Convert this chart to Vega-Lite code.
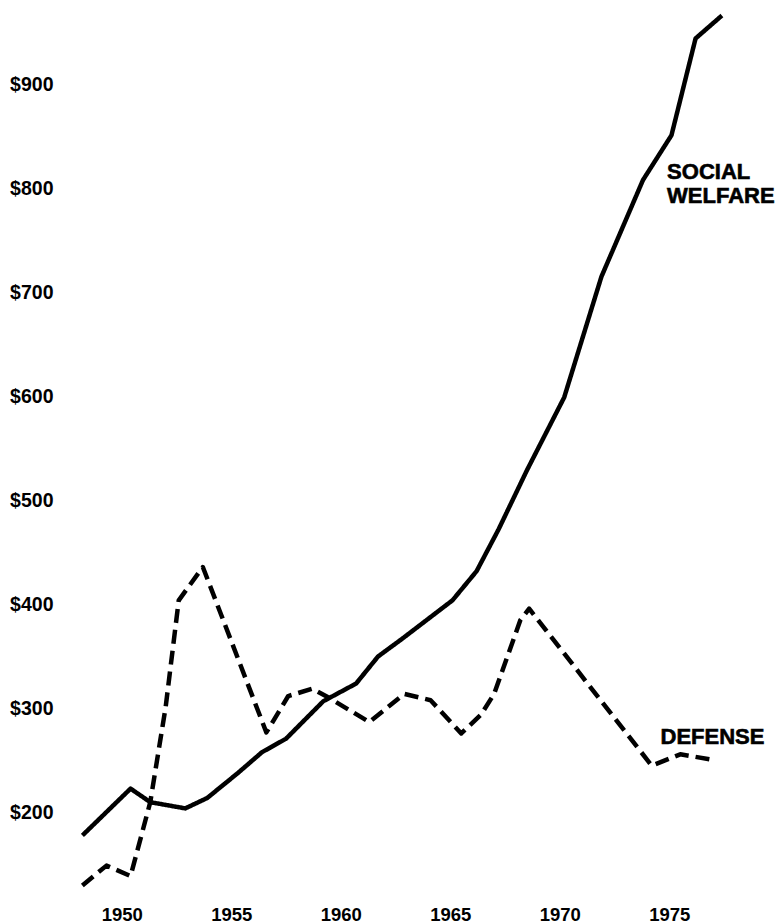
{
  "$schema": "https://vega.github.io/schema/vega-lite/v6.json",
  "width": 657,
  "height": 900,
  "autosize": {"type": "none"},
  "padding": {"left": 78, "top": 1, "right": 41, "bottom": 23},
  "background": "white",
  "config": {"view": {"stroke": null}, "font": "Liberation Sans"},
  "datasets": {
    "lines": [
      {"series": "Social welfare", "year": 1948.2, "value": 178},
      {"series": "Social welfare", "year": 1950.4, "value": 223},
      {"series": "Social welfare", "year": 1951.3, "value": 210},
      {"series": "Social welfare", "year": 1952.9, "value": 204},
      {"series": "Social welfare", "year": 1953.9, "value": 214},
      {"series": "Social welfare", "year": 1955.3, "value": 238},
      {"series": "Social welfare", "year": 1956.4, "value": 258},
      {"series": "Social welfare", "year": 1957.5, "value": 271},
      {"series": "Social welfare", "year": 1959.2, "value": 307},
      {"series": "Social welfare", "year": 1960.7, "value": 324},
      {"series": "Social welfare", "year": 1961.7, "value": 350},
      {"series": "Social welfare", "year": 1962.8, "value": 367},
      {"series": "Social welfare", "year": 1965.1, "value": 404},
      {"series": "Social welfare", "year": 1966.2, "value": 432},
      {"series": "Social welfare", "year": 1967.2, "value": 472},
      {"series": "Social welfare", "year": 1968.5, "value": 529},
      {"series": "Social welfare", "year": 1970.2, "value": 599},
      {"series": "Social welfare", "year": 1971.9, "value": 715},
      {"series": "Social welfare", "year": 1973.8, "value": 808},
      {"series": "Social welfare", "year": 1975.1, "value": 851},
      {"series": "Social welfare", "year": 1976.2, "value": 944},
      {"series": "Social welfare", "year": 1977.4, "value": 966},
      {"series": "Defense", "year": 1948.2, "value": 130},
      {"series": "Defense", "year": 1949.3, "value": 149},
      {"series": "Defense", "year": 1950.4, "value": 139},
      {"series": "Defense", "year": 1951.3, "value": 210},
      {"series": "Defense", "year": 1952.0, "value": 301},
      {"series": "Defense", "year": 1952.6, "value": 404},
      {"series": "Defense", "year": 1953.7, "value": 436},
      {"series": "Defense", "year": 1956.6, "value": 277},
      {"series": "Defense", "year": 1957.6, "value": 312},
      {"series": "Defense", "year": 1958.7, "value": 319},
      {"series": "Defense", "year": 1959.4, "value": 311},
      {"series": "Defense", "year": 1961.3, "value": 287},
      {"series": "Defense", "year": 1962.9, "value": 314},
      {"series": "Defense", "year": 1964.1, "value": 308},
      {"series": "Defense", "year": 1965.5, "value": 276},
      {"series": "Defense", "year": 1966.4, "value": 294},
      {"series": "Defense", "year": 1967.0, "value": 314},
      {"series": "Defense", "year": 1968.2, "value": 385},
      {"series": "Defense", "year": 1968.6, "value": 396},
      {"series": "Defense", "year": 1974.2, "value": 245},
      {"series": "Defense", "year": 1975.5, "value": 256},
      {"series": "Defense", "year": 1976.9, "value": 251}
    ],
    "labels": [
      {"label": "SOCIAL", "year": 1974.9, "value": 816},
      {"label": "WELFARE", "year": 1974.9, "value": 793},
      {"label": "DEFENSE", "year": 1974.6, "value": 273}
    ]
  },
  "layer": [
    {
      "data": {"name": "lines"},
      "mark": {"type": "line", "strokeWidth": 4.5, "color": "black", "strokeJoin": "round"},
      "encoding": {
        "x": {
          "field": "year", "type": "quantitative",
          "scale": {"domain": [1948, 1978], "zero": false, "nice": false},
          "axis": {
            "values": [1950, 1955, 1960, 1965, 1970, 1975],
            "format": "d", "title": null, "grid": false, "domain": false, "ticks": false,
            "labelFontSize": 18.5, "labelFontWeight": "bold", "labelColor": "black",
            "labelBaseline": "middle", "labelPadding": 13,
            "encode": {"labels": {"update": {"stroke": {"value": "black"}, "strokeWidth": {"value": 0.7}}}}
          }
        },
        "y": {
          "field": "value", "type": "quantitative",
          "scale": {"domain": [115, 980], "zero": false, "nice": false},
          "axis": {
            "values": [200, 300, 400, 500, 600, 700, 800, 900],
            "labelExpr": "'$' + datum.value", "title": null, "grid": false, "domain": false, "ticks": false,
            "labelFontSize": 19.5, "labelFontWeight": "bold", "labelColor": "black",
            "labelPadding": 25,
            "encode": {"labels": {"update": {"stroke": {"value": "black"}, "strokeWidth": {"value": 0.7}}}}
          }
        },
        "strokeDash": {
          "field": "series", "type": "nominal",
          "scale": {"domain": ["Social welfare", "Defense"], "range": [[1, 0], [14, 7]]},
          "legend": null
        }
      }
    },
    {
      "data": {"name": "labels"},
      "mark": {"type": "text", "align": "left", "baseline": "middle", "fontSize": 22, "fontWeight": "bold", "color": "black", "stroke": "black", "strokeWidth": 0.6},
      "encoding": {
        "x": {"field": "year", "type": "quantitative"},
        "y": {"field": "value", "type": "quantitative"},
        "text": {"field": "label"}
      }
    }
  ]
}
